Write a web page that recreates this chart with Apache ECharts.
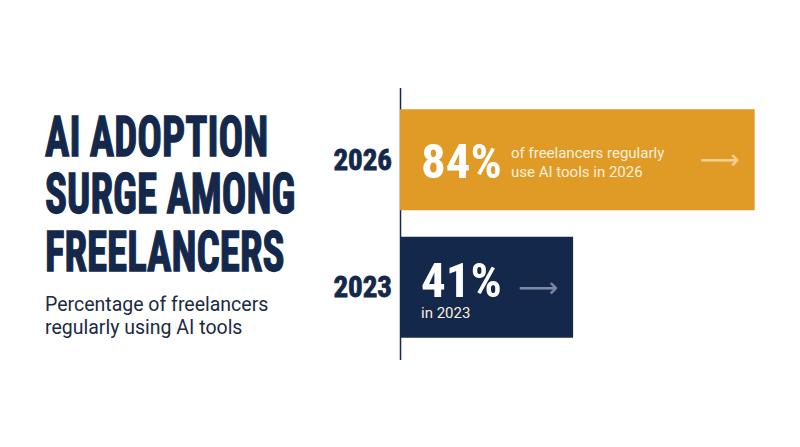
<!DOCTYPE html>
<html>
<head>
<meta charset="utf-8">
<script src="https://cdn.jsdelivr.net/npm/echarts@6/dist/echarts.min.js"></script>
<style>
html,body{margin:0;padding:0;background:#ffffff;}
#chart{width:800px;height:447px;}
</style>
</head>
<body>
<div id="chart"></div>
<script>
const years = ['2023', '2026'];
const shares = [41, 84];
const notes = ['in 2023', 'of freelancers regularly\nuse AI tools in 2026'];
const titleLines = ['AI ADOPTION', 'SURGE AMONG', 'FREELANCERS'];
const subtitleLines = ['Percentage of freelancers', 'regularly using AI tools'];

const navy = '#13284b';
const gold = '#df9b26';
const barColors = [navy, gold];
const narrow = '"Liberation Sans Narrow", "Roboto Condensed", "DejaVu Sans Condensed", sans-serif';
const body = 'Roboto, "Noto Sans", sans-serif';

const chart = echarts.init(document.getElementById('chart'), null, {renderer: 'svg'});

const titleY = [137, 194, 252];
const subY = [304.5, 327];

const graphics = [];
titleLines.forEach((t, i) => {
  graphics.push({
    type: 'text', x: 45, y: titleY[i], scaleX: 0.73,
    style: {text: t, fill: navy, stroke: navy, lineWidth: 1.3,
            fontFamily: narrow, fontWeight: 'bold', fontSize: 56,
            align: 'left', verticalAlign: 'middle'}
  });
});
subtitleLines.forEach((t, i) => {
  graphics.push({
    type: 'text', x: 45, y: subY[i],
    style: {text: t, fill: '#1b2a44', fontFamily: body, fontSize: 19.5,
            align: 'left', verticalAlign: 'middle'}
  });
});
graphics.push({
  type: 'line', shape: {x1: 400.5, y1: 88, x2: 400.5, y2: 360},
  style: {stroke: navy, lineWidth: 1.5}
});

const pctOffset = [[0, -7], [0, 2]];
const mainData = shares.map((v, i) => ({
  value: v,
  itemStyle: {color: barColors[i]},
  label: {formatter: v + '%', offset: pctOffset[i]}
}));

const noteLabels = [
  {position: 'insideLeft', distance: 21, offset: [0, 26]},
  {position: 'insideLeft', distance: 111, offset: [0, 3]}
];
const noteData = shares.map((v, i) => ({
  value: v,
  label: Object.assign({show: true, formatter: notes[i]}, noteLabels[i])
}));

const arrowColors = ['#7d8aa3', 'rgba(255,245,225,0.6)'];
const arrowData = shares.map((v, i) => ({
  value: v,
  label: {color: arrowColors[i]}
}));

chart.setOption({
  animation: false,
  backgroundColor: '#ffffff',
  graphic: graphics,
  grid: {left: 400, right: 20, top: 96, bottom: 96, containLabel: false},
  xAxis: {type: 'value', min: 0, max: 90, show: false},
  yAxis: {
    type: 'category', data: years,
    axisLine: {show: false}, axisTick: {show: false}, splitLine: {show: false},
    axisLabel: {color: navy, fontFamily: narrow, fontWeight: 'bold', fontSize: 29, margin: 8,
                textBorderColor: navy, textBorderWidth: 0.8}
  },
  series: [
    {
      type: 'bar', data: mainData, barWidth: 101, barGap: '-100%',
      label: {
        show: true, position: 'insideLeft', distance: 21, color: '#ffffff',
        fontFamily: narrow, fontWeight: 'bold', fontSize: 49
      }
    },
    {
      type: 'bar', data: noteData, barWidth: 101, barGap: '-100%',
      itemStyle: {color: 'rgba(0,0,0,0)'},
      label: {
        show: true, fontFamily: body, fontSize: 15, lineHeight: 19, color: '#fdf0dc'
      }
    },
    {
      type: 'bar', data: arrowData, barWidth: 101, barGap: '-100%',
      itemStyle: {color: 'rgba(0,0,0,0)'},
      label: {
        show: true, position: 'insideRight', distance: 15, formatter: '\u27F6',
        fontFamily: '"DejaVu Sans", sans-serif', fontSize: 28
      }
    }
  ]
});
</script>
</body>
</html>
